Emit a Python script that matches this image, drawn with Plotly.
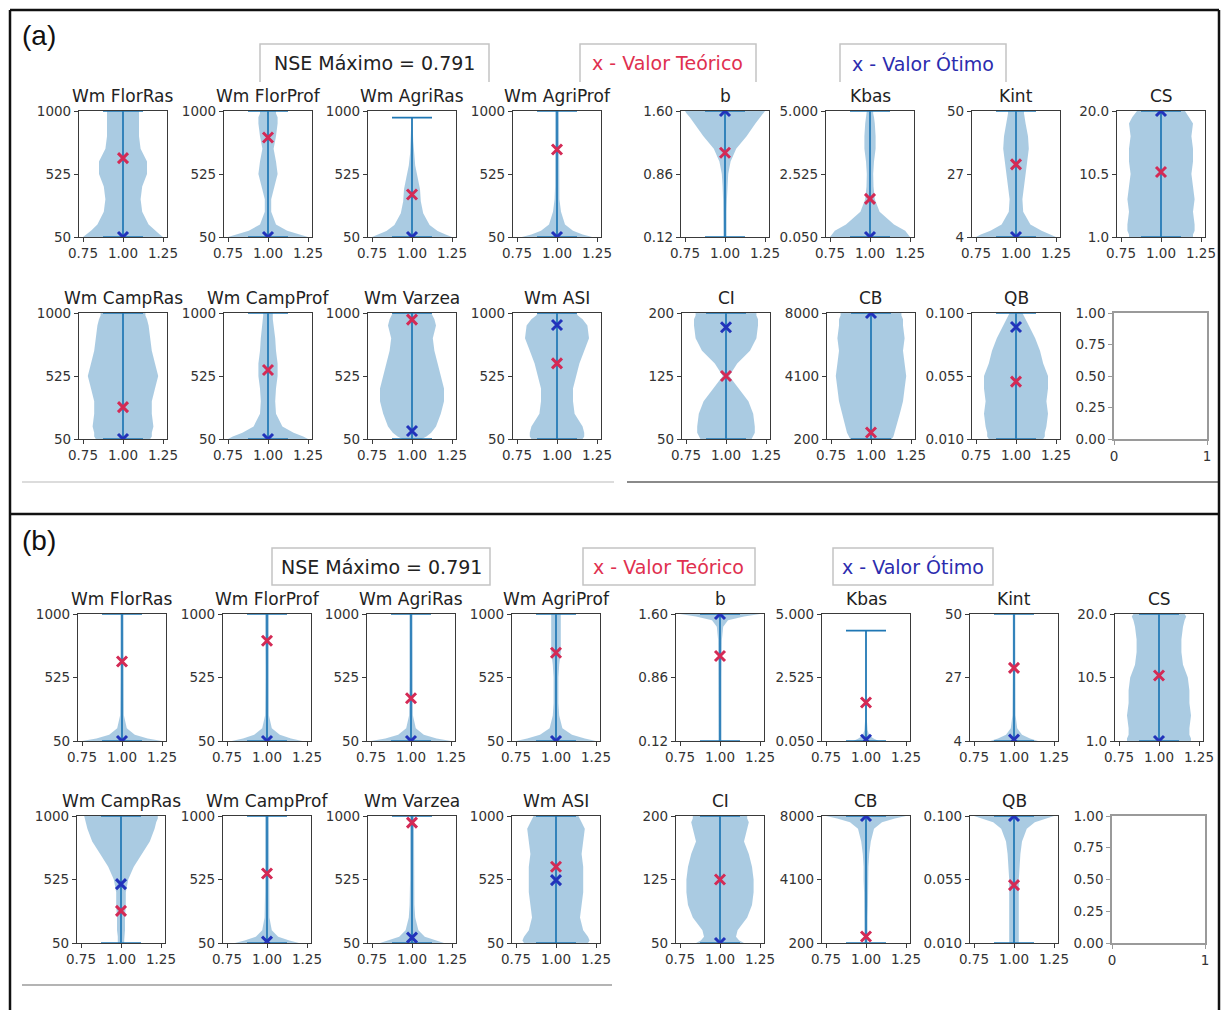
import numpy as np
import plotly.graph_objects as go

W, H = 1224, 1010

# ---------------- data ----------------
params = ["Wm FlorRas", "Wm FlorProf", "Wm AgriRas", "Wm AgriProf", "b", "Kbas", "Kint", "CS",
          "Wm CampRas", "Wm CampProf", "Wm Varzea", "Wm ASI", "CI", "CB", "QB"]
y_min = [50, 50, 50, 50, 0.12, 0.05, 4, 1.0, 50, 50, 50, 50, 50, 200, 0.010]
y_max = [1000, 1000, 1000, 1000, 1.60, 5.0, 50, 20.0, 1000, 1000, 1000, 1000, 200, 8000, 0.100]
ytick_vals = [[50, 525, 1000]] * 4 + [[0.12, 0.86, 1.60], [0.05, 2.525, 5.0], [4, 27, 50], [1.0, 10.5, 20.0]] \
    + [[50, 525, 1000]] * 4 + [[50, 125, 200], [200, 4100, 8000], [0.010, 0.055, 0.100]]
ytick_text = [["50", "525", "1000"]] * 4 + [["0.12", "0.86", "1.60"], ["0.050", "2.525", "5.000"], ["4", "27", "50"], ["1.0", "10.5", "20.0"]] \
    + [["50", "525", "1000"]] * 4 + [["50", "125", "200"], ["200", "4100", "8000"], ["0.010", "0.055", "0.100"]]
xtick_vals = [0.75, 1.00, 1.25]
xtick_text = ["0.75", "1.00", "1.25"]
empty_xtick_vals = [0, 1]
empty_xtick_text = ["0", "1"]
empty_ytick_vals = [0, 0.25, 0.5, 0.75, 1.0]
empty_ytick_text = ["0.00", "0.25", "0.50", "0.75", "1.00"]

valor_teorico = [645, 800, 370, 710, 1.11, 1.55, 30.5, 10.8, 290, 570, 950, 620, 125, 600, 0.051]
valor_otimo_a = [50, 50, 50, 50, 1.60, 0.05, 4, 20.0, 50, 50, 110, 910, 183, 8000, 0.090]
valor_otimo_b = [50, 50, 50, 50, 1.60, 0.10, 4.5, 1.0, 490, 60, 90, 520, 50, 8000, 0.100]
data_max_a = [1000, 1000, 950, 1000, 1.60, 5.0, 50, 20.0, 1000, 1000, 1000, 1000, 200, 8000, 0.100]
data_max_b = [1000, 1000, 1000, 1000, 1.60, 4.35, 50, 20.0, 1000, 1000, 1000, 1000, 200, 8000, 0.100]

# violin half-widths at relative levels (0 = data min, 1 = data max)
levels = [0, 0.02, 0.05, 0.1, 0.2, 0.3, 0.4, 0.5, 0.6, 0.7, 0.8, 0.9, 0.95, 0.98, 1.0]
width_a = [
    [0.25, 0.23, 0.20, 0.16, 0.12, 0.11, 0.12, 0.15, 0.15, 0.11, 0.10, 0.10, 0.10, 0.10, 0.10],
    [0.25, 0.20, 0.12, 0.05, 0.02, 0.02, 0.04, 0.06, 0.05, 0.035, 0.05, 0.06, 0.06, 0.05, 0.05],
    [0.25, 0.21, 0.16, 0.11, 0.07, 0.055, 0.05, 0.035, 0.02, 0.012, 0.008, 0.005, 0.004, 0.003, 0.003],
    [0.22, 0.16, 0.10, 0.05, 0.025, 0.015, 0.012, 0.012, 0.012, 0.012, 0.012, 0.012, 0.012, 0.012, 0.012],
    [0.01, 0.01, 0.01, 0.01, 0.01, 0.012, 0.015, 0.02, 0.035, 0.07, 0.135, 0.19, 0.22, 0.24, 0.25],
    [0.25, 0.24, 0.22, 0.15, 0.06, 0.03, 0.022, 0.02, 0.025, 0.035, 0.035, 0.03, 0.025, 0.02, 0.02],
    [0.25, 0.22, 0.16, 0.09, 0.045, 0.04, 0.05, 0.06, 0.07, 0.08, 0.075, 0.06, 0.055, 0.05, 0.05],
    [0.20, 0.20, 0.21, 0.21, 0.20, 0.21, 0.20, 0.19, 0.20, 0.20, 0.19, 0.20, 0.18, 0.16, 0.15],
    [0.17, 0.18, 0.18, 0.19, 0.18, 0.18, 0.20, 0.22, 0.20, 0.18, 0.17, 0.16, 0.15, 0.14, 0.14],
    [0.25, 0.22, 0.16, 0.09, 0.05, 0.045, 0.05, 0.06, 0.06, 0.05, 0.045, 0.035, 0.03, 0.03, 0.03],
    [0.06, 0.09, 0.12, 0.15, 0.18, 0.20, 0.20, 0.18, 0.16, 0.14, 0.13, 0.15, 0.14, 0.13, 0.12],
    [0.16, 0.17, 0.17, 0.16, 0.11, 0.10, 0.10, 0.12, 0.14, 0.17, 0.20, 0.19, 0.16, 0.13, 0.12],
    [0.16, 0.17, 0.18, 0.18, 0.17, 0.14, 0.08, 0.02, 0.07, 0.15, 0.19, 0.20, 0.20, 0.19, 0.19],
    [0.13, 0.14, 0.15, 0.16, 0.18, 0.20, 0.21, 0.22, 0.21, 0.20, 0.21, 0.20, 0.20, 0.19, 0.19],
    [0.17, 0.18, 0.18, 0.19, 0.20, 0.19, 0.20, 0.20, 0.17, 0.15, 0.12, 0.08, 0.06, 0.05, 0.04],
]
width_b = [
    [0.25, 0.16, 0.08, 0.03, 0.012, 0.01, 0.01, 0.01, 0.01, 0.01, 0.01, 0.01, 0.01, 0.01, 0.01],
    [0.22, 0.15, 0.08, 0.03, 0.012, 0.01, 0.01, 0.01, 0.01, 0.012, 0.012, 0.012, 0.012, 0.012, 0.012],
    [0.25, 0.16, 0.08, 0.03, 0.012, 0.01, 0.01, 0.01, 0.01, 0.01, 0.01, 0.01, 0.01, 0.01, 0.01],
    [0.25, 0.18, 0.10, 0.04, 0.02, 0.015, 0.015, 0.015, 0.02, 0.03, 0.03, 0.03, 0.03, 0.03, 0.03],
    [0.01, 0.01, 0.01, 0.01, 0.01, 0.01, 0.01, 0.01, 0.01, 0.01, 0.012, 0.02, 0.05, 0.15, 0.25],
    [0.08, 0.05, 0.02, 0.01, 0.005, 0.004, 0.004, 0.004, 0.004, 0.004, 0.004, 0.004, 0.004, 0.004, 0.004],
    [0.15, 0.10, 0.05, 0.02, 0.01, 0.008, 0.008, 0.008, 0.008, 0.008, 0.008, 0.008, 0.008, 0.008, 0.008],
    [0.20, 0.20, 0.19, 0.19, 0.20, 0.19, 0.19, 0.18, 0.15, 0.14, 0.14, 0.15, 0.16, 0.17, 0.16],
    [0.02, 0.02, 0.02, 0.025, 0.025, 0.03, 0.03, 0.045, 0.08, 0.13, 0.18, 0.21, 0.22, 0.23, 0.23],
    [0.20, 0.14, 0.07, 0.03, 0.015, 0.012, 0.012, 0.012, 0.012, 0.012, 0.012, 0.012, 0.012, 0.012, 0.012],
    [0.20, 0.15, 0.08, 0.04, 0.02, 0.015, 0.012, 0.012, 0.012, 0.012, 0.012, 0.012, 0.012, 0.012, 0.012],
    [0.20, 0.21, 0.20, 0.17, 0.15, 0.16, 0.17, 0.17, 0.17, 0.16, 0.17, 0.18, 0.16, 0.15, 0.14],
    [0.15, 0.12, 0.10, 0.11, 0.17, 0.20, 0.21, 0.21, 0.20, 0.18, 0.15, 0.17, 0.18, 0.17, 0.17],
    [0.01, 0.01, 0.01, 0.01, 0.01, 0.012, 0.012, 0.015, 0.015, 0.02, 0.03, 0.05, 0.10, 0.18, 0.25],
    [0.03, 0.03, 0.03, 0.03, 0.03, 0.03, 0.03, 0.03, 0.035, 0.04, 0.05, 0.08, 0.13, 0.20, 0.25],
]

nse_text = "NSE Máximo = 0.791"
teorico_text = "x - Valor Teórico"
otimo_text = "x - Valor Ótimo"

# ---------------- layout geometry (pixels) ----------------
panels = [
    dict(label="(a)", label_y=35, rows=[(111, 237), (313, 439)],
         centers=[123, 268, 412, 557, 725, 870, 1016, 1161, 123, 268, 412, 557, 726, 871, 1016],
         empty=(1114, 1207), widths=width_a, otimo=valor_otimo_a, dmax=data_max_a,
         boxes=[(260, 489, 44, 82), (580, 756, 44, 82), (840, 1006, 44, 82)], open_bottom=True),
    dict(label="(b)", label_y=540, rows=[(614, 741), (816, 943)],
         centers=[122, 267, 411, 556, 720, 866, 1014, 1159, 121, 267, 412, 556, 720, 866, 1014],
         empty=(1112, 1205), widths=width_b, otimo=valor_otimo_b, dmax=data_max_b,
         boxes=[(272, 490, 548, 585), (583, 755, 548, 585), (833, 993, 548, 585)], open_bottom=False),
]

def px(x):
    return x / W

def py(y):
    return 1 - y / H

FONT = "DejaVu Sans"
SPINE = "#3a3a3a"
TICKFONT = dict(family=FONT, size=13.5, color="#333333")
HALF = 44  # half axis width in px

fig = go.Figure()
layout = dict(width=W, height=H, margin=dict(l=0, r=0, t=0, b=0), autosize=False,
              paper_bgcolor="white", plot_bgcolor="white", showlegend=False)
annotations = []
shapes = []

k = 0
for p in panels:
    for i in range(16):
        k += 1
        xa = "xaxis" if k == 1 else f"xaxis{k}"
        ya = "yaxis" if k == 1 else f"yaxis{k}"
        xr = "x" if k == 1 else f"x{k}"
        yr = "y" if k == 1 else f"y{k}"
        row = 0 if i < 8 else 1
        top, bot = p["rows"][row]
        ydom = [py(bot), py(top)]
        common = dict(showgrid=False, zeroline=False, showline=True, mirror=True,
                      ticks="outside", ticklen=4, tickwidth=1, automargin=False,
                      tickfont=TICKFONT, fixedrange=True, tickangle=0)
        if i == 15:
            x0, x1 = p["empty"]
            layout[xa] = dict(domain=[px(x0), px(x1)], range=[0, 1], anchor=yr,
                              tickvals=empty_xtick_vals, ticktext=empty_xtick_text,
                              linecolor="#9a9a9a", tickcolor="#9a9a9a", linewidth=1.5, **common)
            layout[ya] = dict(domain=ydom, range=[0, 1], anchor=xr,
                              tickvals=empty_ytick_vals, ticktext=empty_ytick_text,
                              linecolor="#9a9a9a", tickcolor="#9a9a9a", linewidth=1.5, **common)
            fig.add_trace(go.Scatter(x=[], y=[], xaxis=xr, yaxis=yr, mode="lines"))
            continue
        c = p["centers"][i]
        layout[xa] = dict(domain=[px(c - HALF), px(c + HALF)], range=[0.725, 1.275], anchor=yr,
                          tickvals=xtick_vals, ticktext=xtick_text,
                          linecolor=SPINE, tickcolor=SPINE, linewidth=1.2, **common)
        layout[ya] = dict(domain=ydom, range=[y_min[i], y_max[i]], anchor=xr,
                          tickvals=ytick_vals[i], ticktext=ytick_text[i],
                          linecolor=SPINE, tickcolor=SPINE, linewidth=1.2, **common)
        # violin body
        dmin, dmax = y_min[i], p["dmax"][i]
        ys = dmin + np.array(levels) * (dmax - dmin)
        w = np.array(p["widths"][i])
        xs = np.concatenate([1 - w, (1 + w)[::-1]])
        yy = np.concatenate([ys, ys[::-1]])
        fig.add_trace(go.Scatter(x=xs, y=yy, xaxis=xr, yaxis=yr, mode="lines", fill="toself",
                                 fillcolor="rgba(31,119,180,0.38)", line=dict(width=0),
                                 hoverinfo="skip"))
        # extrema bars
        fig.add_trace(go.Scatter(x=[1, 1], y=[dmin, dmax], xaxis=xr, yaxis=yr, mode="lines",
                                 line=dict(color="#1f77b4", width=1.7), hoverinfo="skip"))
        for yv in (dmin, dmax):
            fig.add_trace(go.Scatter(x=[0.875, 1.125], y=[yv, yv], xaxis=xr, yaxis=yr, mode="lines",
                                     line=dict(color="#1f77b4", width=1.7), hoverinfo="skip"))
        # markers
        fig.add_trace(go.Scatter(x=[1], y=[valor_teorico[i]], xaxis=xr, yaxis=yr, mode="markers",
                                 marker=dict(symbol="x-thin", size=10, line=dict(width=3, color="#d42a55"))))
        fig.add_trace(go.Scatter(x=[1], y=[p["otimo"][i]], xaxis=xr, yaxis=yr, mode="markers",
                                 marker=dict(symbol="x-thin", size=10, line=dict(width=3, color="#2233bb"))))
        # subplot title
        annotations.append(dict(x=px(c), y=py(top - 3), xref="paper", yref="paper", text=params[i],
                                showarrow=False, xanchor="center", yanchor="bottom",
                                font=dict(family=FONT, size=17, color="#222222")))

    # panel label
    annotations.append(dict(x=px(20), y=py(p["label_y"]), xref="paper", yref="paper", text=p["label"],
                            showarrow=False, xanchor="left", yanchor="middle",
                            font=dict(family="Liberation Sans", size=28, color="#111111")))
    # boxes
    texts = [(nse_text, "#222222"), (teorico_text, "#e0304f"), (otimo_text, "#2c2cae")]
    for (bx0, bx1, by0, by1), (t, col) in zip(p["boxes"], texts):
        if p["open_bottom"]:
            path = f"M {px(bx0)},{py(by1)} L {px(bx0)},{py(by0)} L {px(bx1)},{py(by0)} L {px(bx1)},{py(by1)}"
            shapes.append(dict(type="path", path=path, xref="paper", yref="paper",
                               line=dict(color="#c4c4c4", width=1.5)))
        else:
            shapes.append(dict(type="rect", x0=px(bx0), x1=px(bx1), y0=py(by1), y1=py(by0),
                               xref="paper", yref="paper", line=dict(color="#c4c4c4", width=1.5)))
        annotations.append(dict(x=px((bx0 + bx1) / 2), y=py((by0 + by1) / 2), xref="paper", yref="paper",
                                text=t, showarrow=False, xanchor="center", yanchor="middle",
                                font=dict(family=FONT, size=19, color=col)))

# white masks where the source images were cropped
shapes.append(dict(type="rect", x0=px(613), x1=px(621), y0=py(470), y1=py(86), xref="paper", yref="paper",
                   fillcolor="white", line=dict(width=0), layer="above"))
shapes.append(dict(type="rect", x0=px(1220), x1=1, y0=0, y1=1, xref="paper", yref="paper",
                   fillcolor="white", line=dict(width=0), layer="above"))

# separator lines under the sub-figures
for (x0, x1, y, col) in [(22, 614, 482, "#dcdcdc"), (627, 1218, 482, "#8a8a8a"), (22, 612, 985, "#b4b4b4")]:
    shapes.append(dict(type="line", x0=px(x0), x1=px(x1), y0=py(y), y1=py(y), xref="paper", yref="paper",
                       line=dict(color=col, width=2)))

# outer frame
for (x0, y0, x1, y1) in [(10, 10, 1219, 10), (10, 10, 10, 1010), (1219, 10, 1219, 1010), (10, 514, 1219, 514)]:
    shapes.append(dict(type="line", x0=px(x0), x1=px(x1), y0=py(y0), y1=py(y1), xref="paper", yref="paper",
                       line=dict(color="#111111", width=2.5), layer="above"))

layout["annotations"] = annotations
layout["shapes"] = shapes
fig.update_layout(**layout)
fig.write_html("out.html")
